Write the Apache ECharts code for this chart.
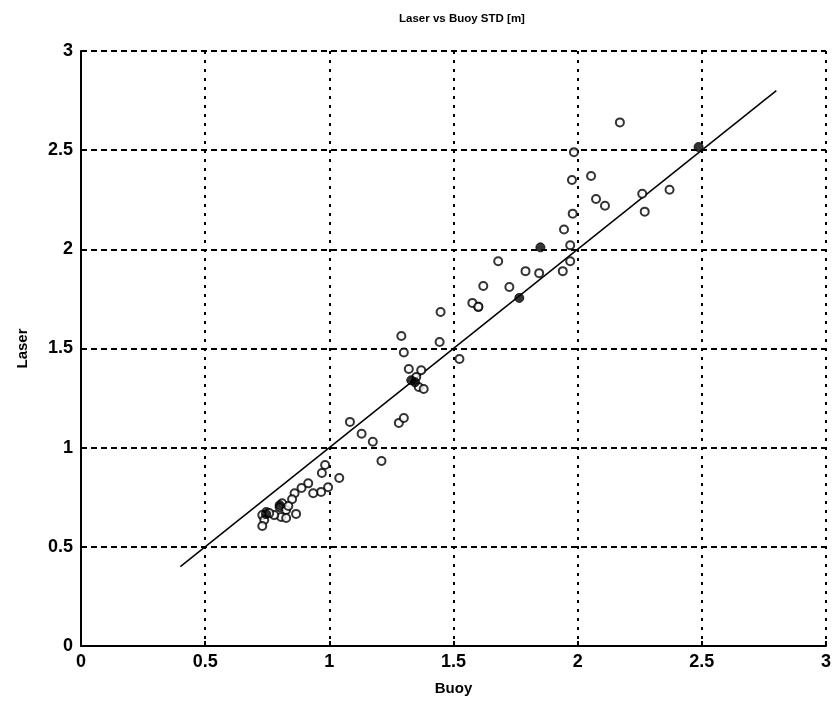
<!DOCTYPE html>
<html><head><meta charset="utf-8">
<script src="https://cdn.jsdelivr.net/npm/echarts@6/dist/echarts.min.js"></script>
<style>html,body{margin:0;padding:0;background:#fff}#c{width:834px;height:707px}</style>
</head><body><div id="c"></div>
<script>
var titleText = "Laser vs Buoy STD [m]";
var xName = "Buoy";
var yName = "Laser";
var xTicks = [0, 0.5, 1, 1.5, 2, 2.5, 3];
var yTicks = [0, 0.5, 1, 1.5, 2, 2.5, 3];

// open-circle points (Buoy, Laser)
var buoy = [1.985,2.17,1.977,2.054,2.074,2.11,1.98,1.945,1.97,1.68,1.97,1.94,1.79,1.845,1.62,1.725,1.60,2.26,2.37,2.27,
  1.29,1.30,1.448,1.576,1.60,1.444,1.524,1.32,1.37,1.35,1.36,1.38,1.28,1.30,
  1.083,1.13,1.175,1.21,0.983,0.97,1.04,0.995,0.967,0.935,0.915,0.888,0.86,0.85,0.866,0.81,0.80,0.826,0.806,0.826,0.778,0.746,0.73,0.738,0.73,0.758,0.835];
var laser = [2.49,2.64,2.35,2.37,2.254,2.22,2.18,2.10,2.02,1.94,1.94,1.89,1.89,1.88,1.815,1.81,1.71,2.28,2.30,2.19,
  1.563,1.48,1.684,1.73,1.71,1.533,1.447,1.397,1.39,1.356,1.306,1.296,1.125,1.15,
  1.13,1.07,1.03,0.933,0.913,0.872,0.847,0.80,0.777,0.77,0.82,0.797,0.77,0.74,0.666,0.72,0.70,0.686,0.65,0.645,0.66,0.676,0.66,0.635,0.605,0.67,0.706];
// dense (filled-looking) points
var buoyDense = [1.85,1.765,2.487,1.33,1.345,0.80,0.745];
var laserDense = [2.01,1.755,2.516,1.34,1.33,0.71,0.665];
// reference line
var lineX = [0.4, 2.8];
var lineY = [0.4, 2.8];

function pairs(a,b){return a.map(function(v,i){return [v,b[i]];});}

var FONT = '"Liberation Sans", Arial, sans-serif';
var chart = echarts.init(document.getElementById('c'), null, {renderer:'canvas'});
var axisCommon = {
  min: 0, max: 3, interval: 0.5,
  axisLine: {show:true, onZero:false, lineStyle:{color:'#000', width:2}},
  axisTick: {show:true, inside:true, length:5, lineStyle:{color:'#000', width:2}},
  axisLabel: {color:'#000', fontFamily:FONT, fontWeight:'bold', fontSize:18,
    formatter:function(v){return String(v);}},
  nameTextStyle: {color:'#000', fontFamily:FONT, fontWeight:'bold', fontSize:15}
};
chart.setOption({
  animation:false,
  backgroundColor:'#fff',
  title:{text:titleText, left:457, top:8, textAlign:'center',
    textStyle:{color:'#000', fontFamily:FONT, fontWeight:'bold', fontSize:11.5}},
  grid:{left:81, right:5, top:51, bottom:61, containLabel:false},
  xAxis:Object.assign({}, axisCommon, {
    type:'value', name:xName, nameLocation:'middle', nameGap:35,
    axisLabel:Object.assign({}, axisCommon.axisLabel, {margin:7}),
    splitLine:{show:true, lineStyle:{color:'#000', width:2, type:[3,6]}}
  }),
  yAxis:Object.assign({}, axisCommon, {
    type:'value', name:yName, nameLocation:'middle', nameGap:51, nameRotate:90,
    axisLabel:Object.assign({}, axisCommon.axisLabel, {margin:8}),
    splitLine:{show:true, lineStyle:{color:'#000', width:2, type:[6,4]}}
  }),
  series:[
    {type:'line', data:pairs(lineX,lineY), symbol:'none', lineStyle:{color:'#000', width:1.5}, z:3},
    {type:'scatter', data:pairs(buoy,laser), symbol:'circle', symbolSize:8,
      itemStyle:{color:'#fff', borderColor:'#000', borderWidth:2}, z:4},
    {type:'scatter', data:pairs(buoyDense,laserDense), symbol:'circle', symbolSize:9,
      itemStyle:{color:'#000', borderColor:'#000', borderWidth:1}, z:5}
  ]
});
</script></body></html>
